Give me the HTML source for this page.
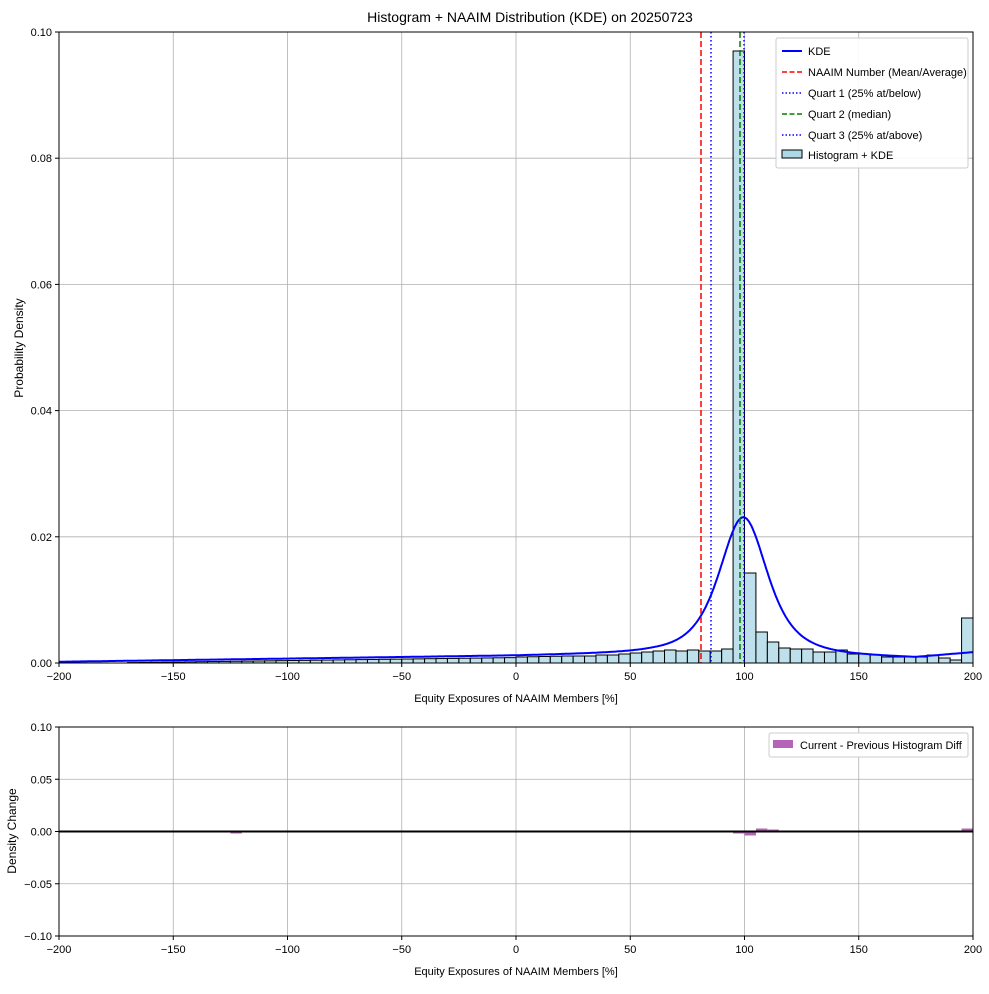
<!DOCTYPE html>
<html><head><meta charset="utf-8"><style>
body{margin:0;background:#fff;}
svg text{font-family:"Liberation Sans",sans-serif;fill:#000;}
</style></head><body>
<svg id="s" width="989" height="989" xmlns="http://www.w3.org/2000/svg"></svg>
<script>
const s=document.getElementById('s');let h='';
const L=59,R=973,T=32,B=663;
const X=v=>L+(v+200)*(R-L)/400;
const Y=d=>B-d*(B-T)/0.1;
const tx=(x,y,fs,t,anc,extra)=>`<text x="${x}" y="${y}" font-size="${fs}" text-anchor="${anc||'start'}" ${extra||''}>${t}</text>`;
h+=`<rect x="0" y="0" width="989" height="989" fill="#fff"/>`;
for(let v=-200;v<=200;v+=50){h+=`<line x1="${X(v)}" y1="${T}" x2="${X(v)}" y2="${B}" stroke="#b0b0b0" stroke-width="0.8"/>`;}
for(let i=0;i<=5;i++){const d=i*0.02;h+=`<line x1="${L}" y1="${Y(d)}" x2="${R}" y2="${Y(d)}" stroke="#b0b0b0" stroke-width="0.8"/>`;}
const px={};
for(let k=0;k<80;k++){const v=-200+5*k;let p;
 if(v<0)p=Math.max(0,(v+200)/200*6-0.5);else if(v<20)p=6+v/20;else p=7;px[v]=p;}
Object.assign(px,{20:7,25:7,30:7,35:8,40:8,45:9,50:10,55:11,60:12,65:13,70:12,75:13,80:12,85:12,90:14,95:612,100:90,105:31,110:21,115:15,120:14,125:14,130:11,135:11,140:13,145:9,150:9,155:8,160:6,165:6,170:6,175:6,180:8,185:5,190:3,195:45});
for(let k=0;k<80;k++){const v=-200+5*k;const p=px[v];if(p<=0.3)continue;
 h+=`<rect x="${X(v)}" y="${B-p}" width="${X(v+5)-X(v)}" height="${p}" fill="#add8e6" fill-opacity="0.8" stroke="#000" stroke-width="1"/>`;}
const bp=[[-200,.0002],[0,.0012],[60,.0017],[99,.0016],[130,.0014],[175,.0009],[200,.0017]];
function base(x){for(let i=0;i<bp.length-1;i++){if(x<=bp[i+1][0]){const t=(x-bp[i][0])/(bp[i+1][0]-bp[i][0]);return bp[i][1]+t*(bp[i+1][1]-bp[i][1]);}}return .0017;}
let pts=[];for(let x=-200;x<=200;x+=0.5){const u=(x-99.5);const d=base(x)+0.0215/Math.pow(1+u*u/376,2);pts.push(X(x).toFixed(1)+','+Y(d).toFixed(1));}
h+=`<polyline points="${pts.join(' ')}" fill="none" stroke="#0000ff" stroke-width="2"/>`;
h+=`<line x1="701" y1="${T}" x2="701" y2="${B}" stroke="#ff0000" stroke-width="1.5" stroke-dasharray="6,3"/>`;
h+=`<line x1="711" y1="${T}" x2="711" y2="${B}" stroke="#0000ff" stroke-width="1.5" stroke-dasharray="1.5,2.5"/>`;
h+=`<line x1="740" y1="${T}" x2="740" y2="${B}" stroke="#008000" stroke-width="1.5" stroke-dasharray="6,3"/>`;
h+=`<line x1="744" y1="${T}" x2="744" y2="${B}" stroke="#0000ff" stroke-width="1.5" stroke-dasharray="1.5,2.5"/>`;
h+=`<rect x="${L}" y="${T}" width="${R-L}" height="${B-T}" fill="none" stroke="#000" stroke-width="1"/>`;
for(let v=-200;v<=200;v+=50){const x=X(v);h+=`<line x1="${x}" y1="${B}" x2="${x}" y2="${B+4}" stroke="#000"/>`+tx(x,B+17,11,v<0?'\u2212'+(-v):v,'middle');}
for(let i=0;i<=5;i++){const d=i*0.02;h+=`<line x1="${L-4}" y1="${Y(d)}" x2="${L}" y2="${Y(d)}" stroke="#000"/>`+tx(L-7,Y(d)+4,11,d.toFixed(2),'end');}
h+=tx(516,702,11,'Equity Exposures of NAAIM Members [%]','middle');
h+=`<text transform="translate(23,348) rotate(-90)" font-size="12" text-anchor="middle">Probability Density</text>`;
h+=tx(530,22,14,'Histogram + NAAIM Distribution (KDE) on 20250723','middle');
h+=`<rect x="776" y="38" width="192" height="130" rx="2" fill="#fff" fill-opacity="0.9" stroke="#ccc"/>`;
const lg=[['KDE','#0000ff','',2],['NAAIM Number (Mean/Average)','#ff0000','5,2.5',1.5],['Quart 1 (25% at/below)','#0000ff','1.5,2',1.5],['Quart 2 (median)','#008000','5,2.5',1.5],['Quart 3 (25% at/above)','#0000ff','1.5,2',1.5]];
lg.forEach((e,i)=>{const y=51+i*21;h+=`<line x1="782" y1="${y}" x2="802" y2="${y}" stroke="${e[1]}" stroke-width="${e[3]}" ${e[2]?`stroke-dasharray="${e[2]}"`:''}/>`+tx(808,y+4,11,e[0]);});
h+=`<rect x="782" y="150" width="20" height="8" fill="#add8e6" stroke="#000"/>`+tx(808,159,11,'Histogram + KDE');
const T2=727,B2=936,Y2=d=>T2+(0.1-d)*(B2-T2)/0.2;
for(let v=-200;v<=200;v+=50){h+=`<line x1="${X(v)}" y1="${T2}" x2="${X(v)}" y2="${B2}" stroke="#b0b0b0" stroke-width="0.8"/>`;}
[-0.1,-0.05,0,0.05,0.1].forEach(d=>{h+=`<line x1="${L}" y1="${Y2(d)}" x2="${R}" y2="${Y2(d)}" stroke="#b0b0b0" stroke-width="0.8"/>`;});
const diff=[[-125,-2],[95,-2],[100,-4],[105,3],[110,2],[195,3]];
diff.forEach(([v,p])=>{const y0=Y2(0);h+=`<rect x="${X(v)}" y="${p>0?y0-p:y0}" width="${X(v+5)-X(v)}" height="${Math.abs(p)}" fill="#b565b9"/>`;});
h+=`<line x1="${L}" y1="${Y2(0)}" x2="${R}" y2="${Y2(0)}" stroke="#000" stroke-width="2"/>`;
h+=`<rect x="${L}" y="${T2}" width="${R-L}" height="${B2-T2}" fill="none" stroke="#000" stroke-width="1"/>`;
for(let v=-200;v<=200;v+=50){const x=X(v);h+=`<line x1="${x}" y1="${B2}" x2="${x}" y2="${B2+4}" stroke="#000"/>`+tx(x,B2+17,11,v<0?'\u2212'+(-v):v,'middle');}
[-0.1,-0.05,0,0.05,0.1].forEach(d=>{const t=(d<0?'\u2212':'')+Math.abs(d).toFixed(2);h+=`<line x1="${L-4}" y1="${Y2(d)}" x2="${L}" y2="${Y2(d)}" stroke="#000"/>`+tx(L-7,Y2(d)+4,11,t,'end');});
h+=tx(516,975,11,'Equity Exposures of NAAIM Members [%]','middle');
h+=`<text transform="translate(16,831) rotate(-90)" font-size="12" text-anchor="middle">Density Change</text>`;
h+=`<rect x="769" y="733" width="199" height="24" rx="2" fill="#fff" stroke="#ccc"/><rect x="773" y="740" width="20" height="8" fill="#b565b9"/>`+tx(800,749,11,'Current - Previous Histogram Diff');
s.innerHTML=h;
</script>
</body></html>
